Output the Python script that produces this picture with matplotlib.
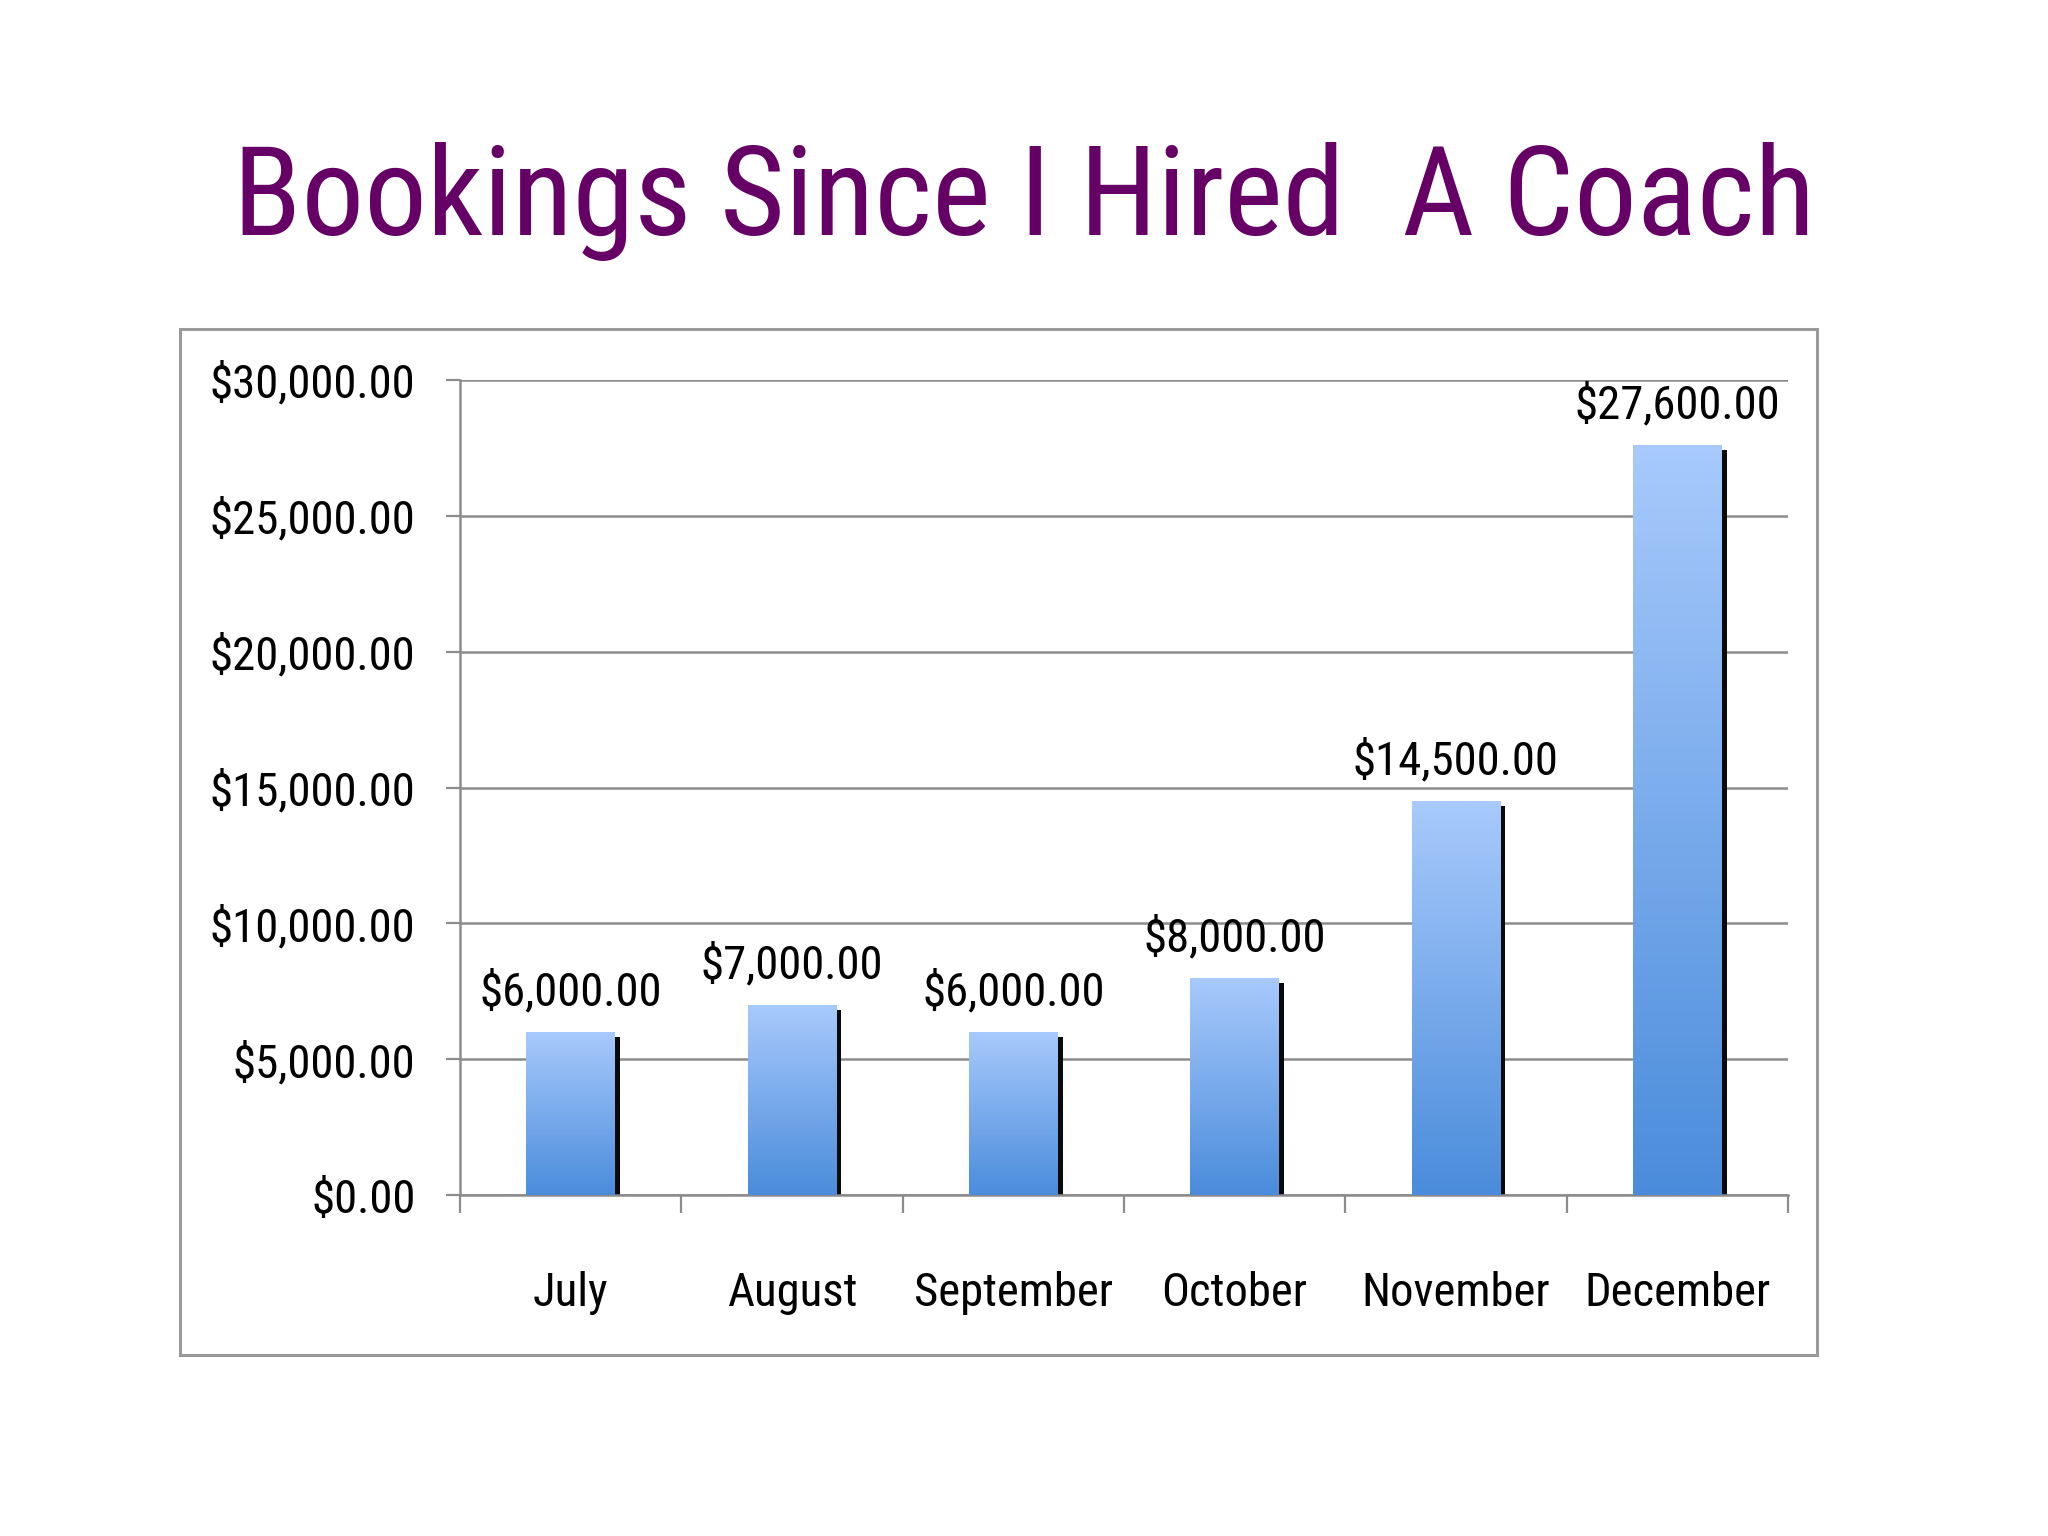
import matplotlib
matplotlib.use("Agg")
import matplotlib.pyplot as plt
import matplotlib.transforms as mtransforms
from matplotlib.patches import Rectangle
from matplotlib.ticker import FuncFormatter, FixedLocator
from matplotlib import font_manager as fm
from matplotlib.colors import LinearSegmentedColormap
import numpy as np

months = ["July", "August", "September", "October", "November", "December"]
bookings = [6000, 7000, 6000, 8000, 14500, 27600]
y_ticks = [0, 5000, 10000, 15000, 20000, 25000, 30000]
title = "Bookings Since I Hired  A Coach"


def pick_font():
    prefs = ["liberationsansnarrow-regular", "robotocondensed-regular", "notosans-condensed.",
             "notosans-condensed", "opensans-condensed", "dejavusanscondensed.", "dejavusanscondensed"]
    files = [f.fname for f in fm.fontManager.ttflist]
    for p in prefs:
        for fn in files:
            base = fn.split("/")[-1].lower()
            if base.startswith(p) and "bold" not in base and "italic" not in base \
                    and "light" not in base and "oblique" not in base:
                return fm.FontProperties(fname=fn)
    return fm.FontProperties(family="DejaVu Sans")


FP = pick_font()

fig = plt.figure(figsize=(20.48, 15.36), dpi=100)
fig.patch.set_facecolor("white")
renderer = fig.canvas.get_renderer()


def fit_size(text, target_px, base=40):
    t = fig.text(0, 0, text, fontproperties=FP, fontsize=base)
    w = t.get_window_extent(renderer).width
    t.remove()
    return base * target_px / w


title_fs = min(fit_size(title, 1583), 92)
lab_fs = min(fit_size("$30,000.00", 206), 37)

# outer frame
fig.patches.append(Rectangle((0.0879, 0.1178), 0.7993, 0.668, transform=fig.transFigure,
                             fill=False, edgecolor="#9a9a9a", linewidth=2.2, zorder=0))

fig.text(0.5, 0.847, title, ha="center", va="baseline", fontsize=title_fs,
         color="#660066", fontproperties=FP)

ax = fig.add_axes([0.2246, 0.2220, 0.6484, 0.5306])
ax.set_facecolor("white")
x = np.arange(len(months))

grid_c = "#8c8c8c"
ax.set_yticks(y_ticks)
ax.yaxis.set_major_formatter(FuncFormatter(lambda v, p: "${:,.2f}".format(v)))
ax.grid(axis="y", color=grid_c, linewidth=1.8, zorder=0)
ax.set_axisbelow(True)

ax.xaxis.set_major_locator(FixedLocator(np.arange(-0.5, len(months), 1.0)))
ax.xaxis.set_major_formatter(FuncFormatter(lambda v, p: ""))
ax.xaxis.set_minor_locator(FixedLocator(x))
ax.set_xticklabels(months, minor=True)
ax.tick_params(axis="x", which="major", length=13, width=1.6, color=grid_c, direction="out")
ax.tick_params(axis="x", which="minor", length=0, pad=55)
ax.tick_params(axis="y", length=10, width=1.6, color=grid_c, pad=22)
for lbl in ax.get_xticklabels(minor=True) + ax.get_yticklabels():
    lbl.set_fontproperties(FP)
    lbl.set_fontsize(lab_fs)

for s in ["top", "right"]:
    ax.spines[s].set_visible(False)
for s in ["left", "bottom"]:
    ax.spines[s].set_color(grid_c)
    ax.spines[s].set_linewidth(1.8)

bars = ax.bar(x, bookings, width=0.4, color="none", edgecolor="none", zorder=3)
shadow_off = mtransforms.ScaledTranslation(5 / 100, -5 / 100, fig.dpi_scale_trans)
grad = np.linspace(0, 1, 256).reshape(-1, 1)
cmap = LinearSegmentedColormap.from_list("bar", ["#4a8cdb", "#a8cafc"])
for b, v in zip(bars, bookings):
    x0, w, h = b.get_x(), b.get_width(), b.get_height()
    sh = Rectangle((x0, 0), w, h, facecolor="#0a0a0a", edgecolor="none",
                   transform=ax.transData + shadow_off, zorder=2)
    ax.add_patch(sh)
    im = ax.imshow(grad, extent=[x0, x0 + w, 0, h], origin="lower", cmap=cmap,
                   aspect="auto", zorder=3, interpolation="bilinear")
    im.set_clip_path(b)
    ax.annotate("${:,.2f}".format(v), (x0 + w / 2, h), xytext=(0, 19),
                textcoords="offset points", ha="center", va="baseline",
                fontproperties=FP, fontsize=lab_fs, color="black", zorder=5)

ax.set_xlim(-0.5, len(months) - 0.5)
ax.set_ylim(y_ticks[0], y_ticks[-1])

fig.savefig("out.png", dpi=100, facecolor="white")
